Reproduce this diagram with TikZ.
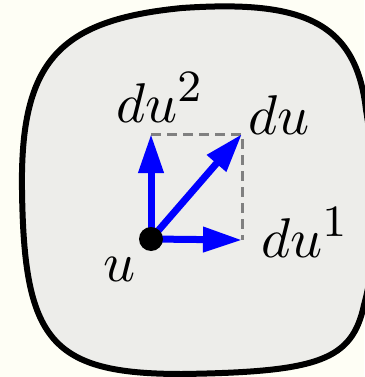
\documentclass[tikz,border=0pt]{standalone}
\usepackage{amsmath}
\usepackage{tikz}
\usetikzlibrary{
    arrows.meta,
    positioning
}
\DeclareMathSizes{10}{10}{8}{6}
\definecolor{paper}{RGB}{254,254,245}
\definecolor{sheet}{RGB}{237,237,234}
\definecolor{vecblue}{RGB}{0,0,255}
\tikzset{
  vec/.style     = {-{Triangle[length=39pt, width=24pt]}, line width=7pt, vecblue},
  guide/.style   = {gray, line width=3pt, dash pattern=on 10pt off 6pt},
  lbl/.style     = {inner sep=0pt, scale=5.6}
}

\begin{document}
\begin{tikzpicture}[x=1pt, y=-1pt]
    \useasboundingbox (0,0) rectangle (364,377);
    \fill[paper] (0,0) rectangle (364,377);
    % the patch
    \draw[line width=6pt, fill=sheet]
      (22,190) .. controls (20,60) and (60,20) .. (182,8)
               .. controls (300,0) and (356,20) .. (366,110)
               .. controls (378,180) and (378,255) .. (364,305)
               .. controls (352,360) and (320,372) .. (182,374)
               .. controls (50,374) and (24,340) .. (22,190) -- cycle;
    \coordinate (u)  at (151,239);
    \coordinate (e1) at (242,240);
    \coordinate (e2) at (151,134);
    \coordinate (e)  at (242,134);
    \draw[guide] (e2) -- (e) -- (e1);
    \draw[vec] (u) -- (e1);
    \draw[vec] (u) -- (e2);
    \draw[vec] (u) -- (e);
    \fill (u) circle (12pt);
    \node[lbl, anchor=base west](l2) at (115,122) {$du^2$};
    \node[lbl, anchor=base west](l)  at (247,135) {$du$};
    \node[lbl, anchor=base west](l1) at (260,257) {$du^1$};
    \node[lbl, anchor=base west](lu) at (102,281) {$u$};
\end{tikzpicture}
\end{document}
